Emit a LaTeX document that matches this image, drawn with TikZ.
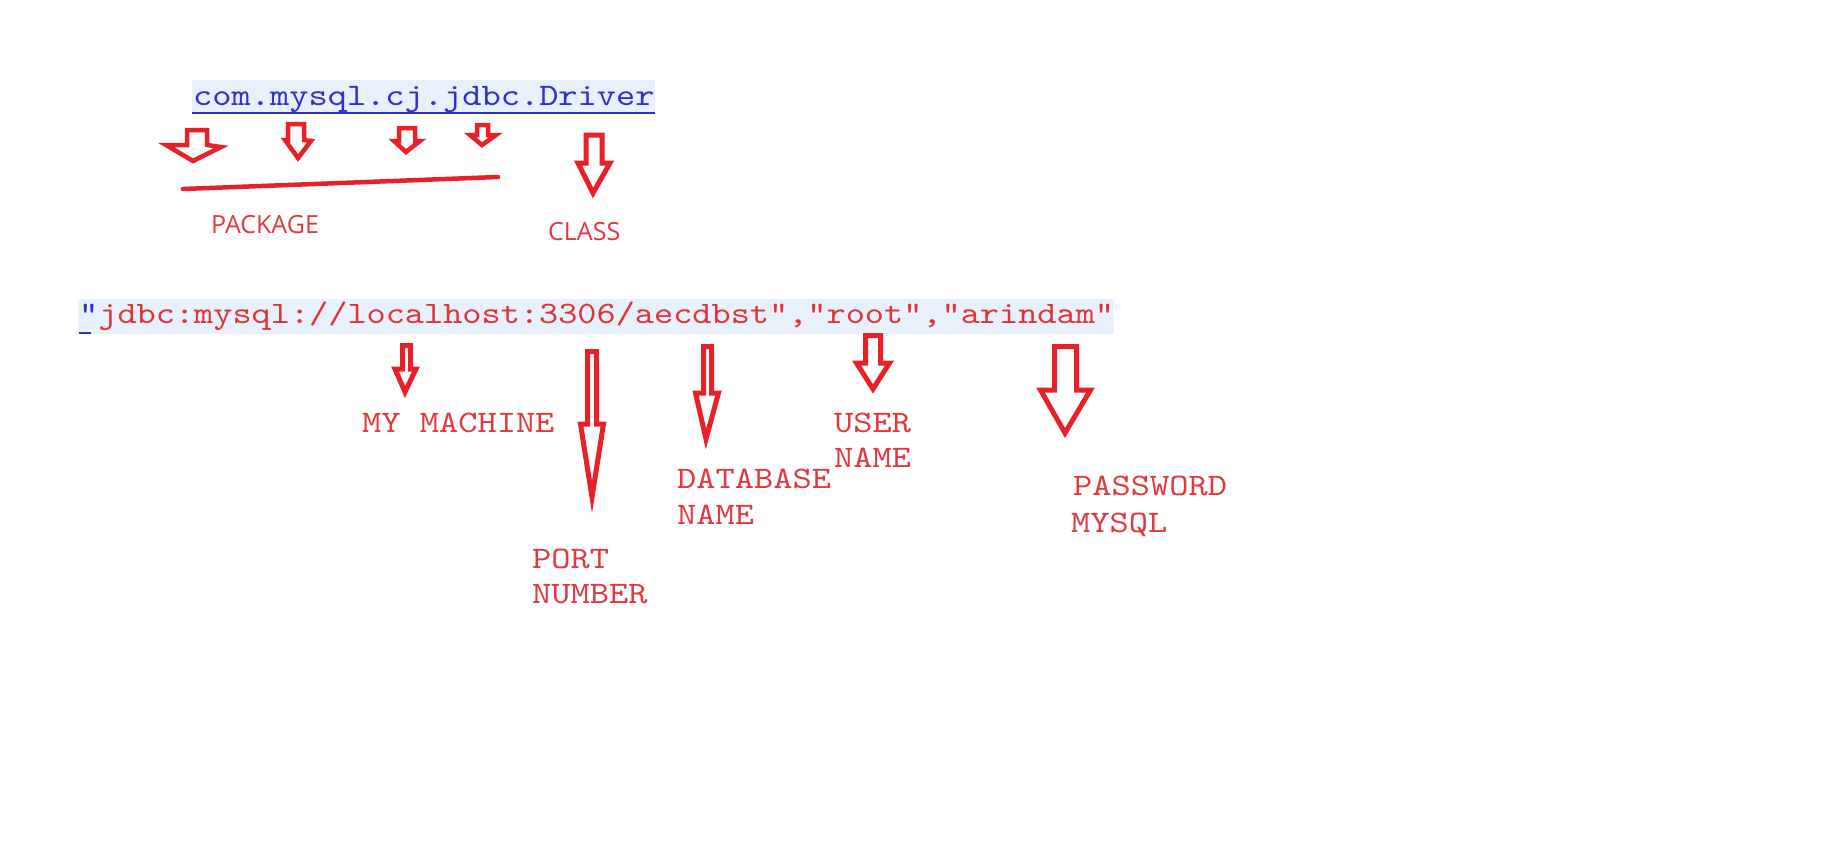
\documentclass[tikz,border=0pt]{standalone}
\usepackage{fontspec}
\newfontfamily\courf{lmmono10-regular.otf}[FakeStretch=1.17]
\newfontfamily\sansf{Open Sans}
\definecolor{codeblue}{RGB}{48,48,204}
\definecolor{codebg}{RGB}{232,240,251}
\definecolor{codered}{RGB}{222,52,56}
\definecolor{labred}{RGB}{226,56,62}
\definecolor{arrred}{RGB}{232,32,40}
\tikzset{
  codetext/.style={inner sep=0pt, anchor=base west, font=\courf\fontsize{31.3}{38}\selectfont},
  labtext/.style={inner sep=0pt, anchor=base west, text=labred, font=\courf\fontsize{31.3}{38}\selectfont},
  sanstext/.style={inner sep=0pt, anchor=base west, text=labred, font=\sansf\fontsize{25}{30}\selectfont},
  hollow/.style={draw=arrred, line width=5pt, fill=white, line join=miter},
  hollowthin/.style={draw=arrred, line width=4.5pt, fill=white, line join=miter},
}
\begin{document}
\begin{tikzpicture}[x=1pt, y=-1pt]
\useasboundingbox (0,0) rectangle (1831,846);
\fill[white] (0,0) rectangle (1831,846);
% backgrounds
\fill[codebg] (192,80) rectangle (655,113);
\fill[codebg] (78,299) rectangle (1114,334);
% code lines
\node[codetext, text=codeblue] (drv) at (193,105) {com.mysql.cj.jdbc.Driver};
\draw[codeblue, line width=2pt] (192,112.5) -- (655,112.5);
\node[codetext, font=\courf\fontsize{31.2}{38}\selectfont] (url) at (79,323) {\textcolor{codeblue}{"}\textcolor{codered}{jdbc:mysql://localhost:3306/aecdbst","root","arindam"}};
\draw[codeblue, line width=2pt] (79,333) -- (91,333);
% top arrows
\draw[hollowthin] (187,130) -- (207,130) -- (207,145) -- (221,147) -- (193,161) -- (166,145) -- (187,145) -- cycle;
\draw[hollowthin] (288,124) -- (304,124) -- (304,140) -- (311,141) -- (298,158) -- (285,140) -- (288,140) -- cycle;
\draw[hollowthin] (399,128) -- (415,128) -- (415,141) -- (420,141) -- (406,152) -- (394,141) -- (399,141) -- cycle;
\draw[hollowthin] (477,125) -- (488,125) -- (488,135) -- (496,135) -- (482,145) -- (470,135) -- (477,135) -- cycle;
\draw[hollow] (586,135) -- (602,135) -- (602,163) -- (610,163) -- (593,193) -- (578,163) -- (586,163) -- cycle;
\coordinate (pkgL) at (183,189);
\coordinate (pkgR) at (498,177);
\draw[arrred, line width=4.5pt, line cap=round] (pkgL) -- (pkgR);
\node[sanstext] (pkg) at (211,233) {PACKAGE};
\node[sanstext] (cls) at (548,240) {CLASS};
% bottom arrows
\draw[hollow] (402.5,345.5) -- (410.5,345.5) -- (410.5,369) -- (416,369) -- (405,392) -- (395,369) -- (402.5,369) -- cycle;
\draw[hollow] (587.5,351.5) -- (596.5,351.5) -- (596.5,424) -- (603.5,424) -- (592,497) -- (580.5,424) -- (587.5,424) -- cycle;
\draw[hollow] (703.5,346.5) -- (711.5,346.5) -- (711.5,393) -- (718.5,393) -- (706,439) -- (695.5,393) -- (703.5,393) -- cycle;
\draw[hollow] (865.5,335.5) -- (880.5,335.5) -- (880.5,363) -- (889.5,363) -- (873,389) -- (856.5,363) -- (865.5,363) -- cycle;
\draw[hollow] (1054.5,346.5) -- (1076.5,346.5) -- (1076.5,390) -- (1090.5,390) -- (1065,433) -- (1040.5,390) -- (1054.5,390) -- cycle;
% labels
\node[labtext] (mm) at (362,432) {MY MACHINE};
\node[labtext] (port1) at (532,568) {PORT};
\node[labtext] (port2) at (532,603) {NUMBER};
\node[labtext] (db1) at (677,488) {DATABASE};
\node[labtext] (db2) at (677,524) {NAME};
\node[labtext] (us1) at (834,432) {USER};
\node[labtext] (us2) at (834,467) {NAME};
\node[labtext] (pw1) at (1073,495) {PASSWORD};
\node[labtext] (pw2) at (1071,532) {MYSQL};
\end{tikzpicture}
\end{document}
